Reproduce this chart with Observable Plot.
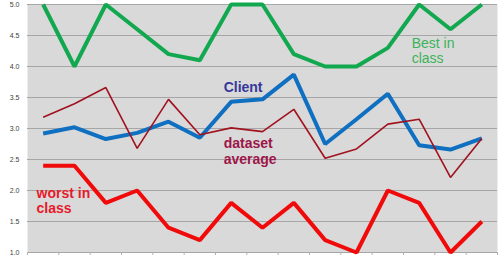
<!DOCTYPE html>
<html>
<head>
<meta charset="utf-8">
<script src="https://cdn.jsdelivr.net/npm/d3@7"></script>
<script src="https://cdn.jsdelivr.net/npm/@observablehq/plot@0.6"></script>
<style>
  html, body { margin: 0; padding: 0; background: #fff; }
  #chart { width: 503px; height: 260px; }
</style>
</head>
<body>
<div id="chart"></div>
<script>
// ---- data ----
const categories = d3.range(15); // 15 unnamed periods
const bestInClass   = [5.0, 4.0, 5.0, 4.6, 4.2, 4.1, 5.0, 5.0, 4.2, 4.0, 4.0, 4.3, 5.0, 4.6, 5.0];
const client        = [2.92, 3.02, 2.83, 2.93, 3.11, 2.85, 3.43, 3.47, 3.87, 2.75, 3.15, 3.56, 2.73, 2.66, 2.84];
const datasetAvg    = [3.18, 3.40, 3.66, 2.68, 3.47, 2.90, 3.01, 2.95, 3.31, 2.52, 2.67, 3.07, 3.15, 2.21, 2.84];
const worstInClass  = [2.4, 2.4, 1.8, 2.0, 1.4, 1.2, 1.8, 1.4, 1.8, 1.2, 1.0, 2.0, 1.8, 1.0, 1.5];
const yTicks = [1.0, 1.5, 2.0, 2.5, 3.0, 3.5, 4.0, 4.5, 5.0];
const seriesNames = ["Best in class", "Client", "dataset average", "worst in class"];
const labelText = ["Best in\nclass", "Client", "dataset\naverage", "worst in\nclass"];
// label anchors in data space (category index, value)
const labelIndex = [11.76, 5.76, 5.76, -0.21];
const labelValue = [4.48, 3.77, 2.86, 2.06];

// ---- build table ----
const seriesValues = [bestInClass, client, datasetAvg, worstInClass];
const rows = [];
seriesNames.forEach((s, k) => categories.forEach((c, i) => rows.push({series: s, i: c, v: seriesValues[k][i]})));
const labels = seriesNames.map((s, k) => ({series: s, text: labelText[k], i: labelIndex[k], v: labelValue[k]}));

const lineColor = {"Best in class": "#12a84f", "Client": "#0f6fc0", "dataset average": "#a0121e", "worst in class": "#f00a0a"};
const lineWidth = {"Best in class": 4, "Client": 4, "dataset average": 1.6, "worst in class": 4};
const textColor = {"Best in class": "#3cb35a", "Client": "#35379a", "dataset average": "#9c1649", "worst in class": "#e8192c"};
const textWeight = {"Best in class": "normal", "Client": "bold", "dataset average": "bold", "worst in class": "bold"};

const boundaries = d3.range(-0.5, 15, 1);

const chart = Plot.plot({
  width: 503,
  height: 260,
  marginLeft: 27,
  marginRight: 6,
  marginTop: 4,
  marginBottom: 8,
  style: {background: "#ffffff", fontFamily: "Liberation Sans, Arial, sans-serif"},
  x: {type: "linear", domain: [-0.5, 14.5]},
  y: {domain: [1, 5]},
  marks: [
    Plot.frame({fill: "#d9d9d9", stroke: null}),
    Plot.gridY(yTicks, {stroke: "#a6a6a6", strokeOpacity: 1, strokeWidth: 1}),
    Plot.axisY(yTicks, {tickSize: 0, tickPadding: 8, tickFormat: d3.format(".1f"), fontSize: 7, fill: "#404040", label: null}),
    Plot.axisX(boundaries, {tickSize: 3, tickFormat: () => "", stroke: "#b0b0b0", label: null}),
    ...seriesNames.map(s => Plot.line(rows.filter(d => d.series === s), {
      x: "i", y: "v", stroke: lineColor[s], strokeWidth: lineWidth[s], strokeLinejoin: "miter", strokeLinecap: "butt"
    })),
    ...labels.map(d => Plot.text([d], {
      x: "i", y: "v", text: "text", textAnchor: "start", lineAnchor: "top", lineHeight: 1.1,
      fontSize: 14, fontWeight: textWeight[d.series], fill: textColor[d.series]
    }))
  ]
});
document.getElementById("chart").appendChild(chart);
</script>
</body>
</html>
